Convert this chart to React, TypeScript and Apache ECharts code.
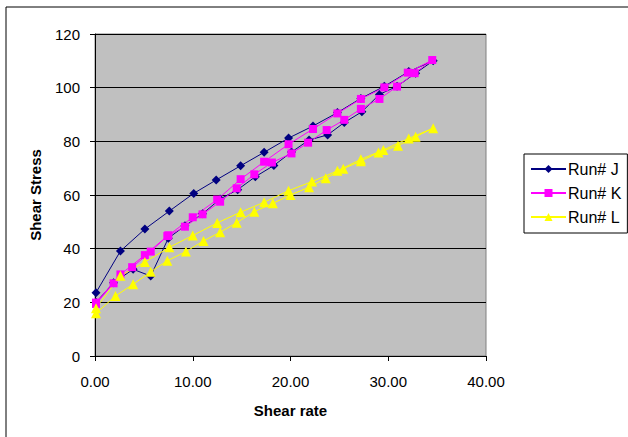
import React, { useEffect, useRef } from "react";
import * as echarts from "echarts";

const xTitle = "Shear rate";
const yTitle = "Shear Stress";
const seriesNames = ["Run# J", "Run# K", "Run# L"];

// Run# J (up sweep then down sweep)
const jX = [0.1, 2.6, 5.1, 7.6, 10.1, 12.4, 14.9, 17.3, 19.8, 22.3, 24.8, 27.2, 29.6, 32.1, 34.6,
  32.8, 30.9, 29.1, 27.3, 25.5, 23.8, 21.9, 20.1, 18.3, 16.4, 14.6, 12.8, 11.0, 9.2, 7.5, 5.7, 3.9, 1.9, 0.1];
const jY = [23.6, 39.1, 47.3, 54.0, 60.6, 65.6, 70.9, 75.9, 81.2, 85.7, 90.7, 96.0, 100.5, 106.0, 110.0,
  105.4, 100.5, 97.5, 91.0, 87.0, 82.4, 80.5, 76.0, 71.0, 66.8, 62.0, 58.5, 53.0, 48.5, 43.9, 29.8, 32.3, 27.3, 20.0];

// Run# K
const kX = [0.1, 2.6, 5.1, 7.5, 10.0, 12.5, 14.9, 17.3, 19.8, 22.3, 24.8, 27.2, 29.6, 32.0, 34.5,
  32.7, 30.9, 29.1, 27.2, 25.5, 23.7, 21.8, 20.1, 18.1, 16.3, 14.5, 12.8, 11.0, 9.2, 7.4, 5.7, 3.8, 1.9, 0.1];
const kY = [19.9, 30.4, 37.6, 45.0, 51.7, 58.3, 65.9, 72.4, 78.9, 84.6, 90.4, 95.8, 100.1, 105.6, 110.3,
  105.4, 100.4, 95.8, 92.1, 88.0, 84.2, 79.5, 75.5, 72.1, 67.7, 62.5, 57.5, 52.8, 48.2, 44.7, 38.9, 33.1, 27.1, 19.4];

// Run# L
const lX = [0.1, 2.6, 5.1, 7.6, 10.0, 12.5, 14.9, 17.3, 19.8, 22.2, 24.8, 27.2, 29.5, 32.1, 34.6,
  32.8, 31.0, 29.0, 27.2, 25.4, 23.6, 21.9, 20.0, 18.2, 16.3, 14.5, 12.8, 11.1, 9.3, 7.4, 5.7, 3.9, 2.1, 0.1];
const lY = [17.8, 29.9, 35.0, 40.5, 44.9, 49.6, 53.6, 57.3, 61.6, 65.0, 69.0, 73.3, 76.8, 81.1, 84.9,
  81.7, 78.4, 75.8, 72.6, 69.8, 66.2, 62.9, 60.0, 56.9, 53.8, 49.7, 46.1, 42.9, 38.9, 35.5, 31.4, 26.7, 22.4, 15.9];

const xTicks = { min: 0, max: 40, interval: 10 };
const yTicks = { min: 0, max: 120, interval: 20 };

const pair = (xs: number[], ys: number[]) => xs.map((x, i) => [x, ys[i]]);

export default function App() {
  const ref = useRef<HTMLDivElement>(null);
  useEffect(() => {
    document.body.style.margin = "0";
    const chart = echarts.init(ref.current!, null, { renderer: "svg" });
    const font = "'Liberation Sans', Arial, sans-serif";
    const mk = (name: string, data: number[][], color: string, symbol: string, size: number) => ({
      name,
      type: "line",
      data,
      symbol,
      symbolSize: size,
      showAllSymbol: true,
      lineStyle: { color, width: 1 },
      itemStyle: { color, borderWidth: 0 },
      emphasis: { disabled: true },
    });
    chart.setOption({
      animation: false,
      backgroundColor: "#ffffff",
      textStyle: { fontFamily: font },
      graphic: [
        {
          type: "rect",
          shape: { x: 6, y: 7, width: 660, height: 460 },
          style: { fill: "none", stroke: "#000000", lineWidth: 1 },
          silent: true,
        },
      ],
      grid: {
        left: 95,
        top: 34,
        width: 391,
        height: 322,
        show: true,
        backgroundColor: "#C0C0C0",
        borderColor: "#808080",
        borderWidth: 1,
      },
      legend: {
        left: 524,
        top: 154,
        orient: "vertical",
        data: seriesNames,
        itemWidth: 35,
        itemHeight: 10,
        itemGap: 8,
        padding: [7, 6, 8, 6],
        borderColor: "#000000",
        borderWidth: 1,
        backgroundColor: "#ffffff",
        textStyle: { fontFamily: font, fontSize: 16, color: "#000000", padding: [0, 0, 0, -3] },
      },
      xAxis: {
        type: "value",
        ...xTicks,
        name: xTitle,
        nameLocation: "middle",
        nameGap: 47,
        nameTextStyle: { fontFamily: font, fontSize: 15, fontWeight: "bold", color: "#000" },
        axisLine: { show: true, lineStyle: { color: "#000000", width: 1 } },
        axisTick: { show: true, inside: false, length: 5, lineStyle: { color: "#000000" } },
        axisLabel: {
          fontFamily: font,
          fontSize: 15,
          color: "#000",
          margin: 18,
          formatter: (v: number) => v.toFixed(2),
        },
        splitLine: { show: false },
      },
      yAxis: {
        type: "value",
        ...yTicks,
        name: yTitle,
        nameLocation: "middle",
        nameGap: 52,
        nameRotate: 90,
        nameTextStyle: { fontFamily: font, fontSize: 15, fontWeight: "bold", color: "#000" },
        axisLine: { show: true, lineStyle: { color: "#000000", width: 1 } },
        axisTick: { show: true, inside: false, length: 5, lineStyle: { color: "#000000" } },
        axisLabel: { fontFamily: font, fontSize: 15, color: "#000", margin: 15 },
        splitLine: { show: true, lineStyle: { color: "#000000", width: 1 } },
      },
      series: [
        mk(seriesNames[0], pair(jX, jY), "#000080", "diamond", 9),
        mk(seriesNames[1], pair(kX, kY), "#FF00FF", "rect", 8),
        mk(seriesNames[2], pair(lX, lY), "#FFFF00", "triangle", 10),
      ],
    });
    return () => chart.dispose();
  }, []);
  return <div ref={ref} style={{ width: 628, height: 437 }} />;
}
